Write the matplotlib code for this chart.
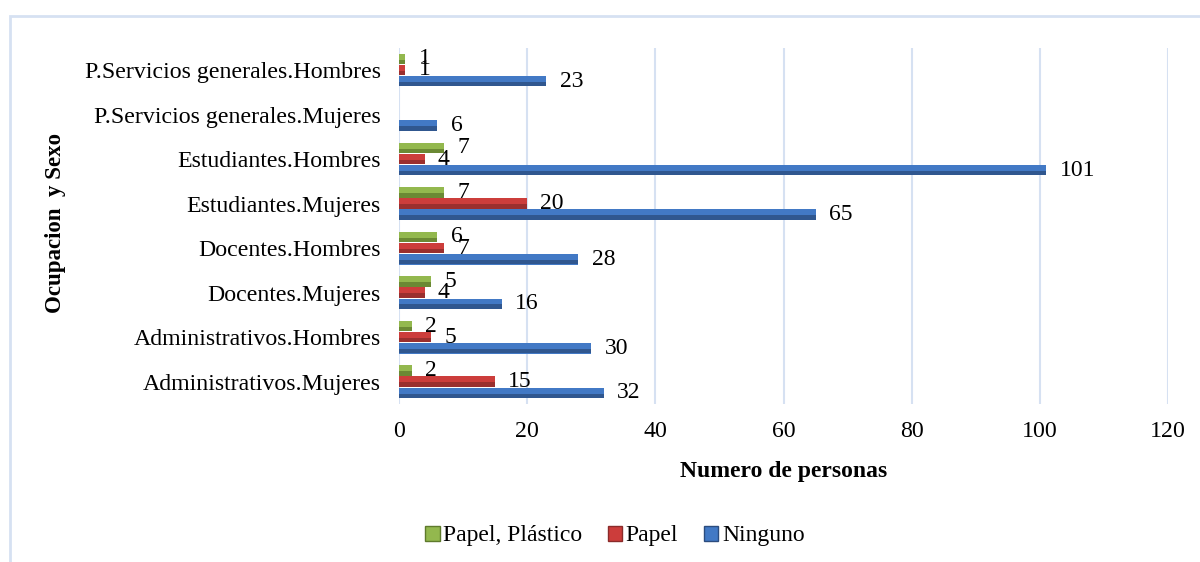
import numpy as np
import matplotlib
matplotlib.use("Agg")
import matplotlib.pyplot as plt
from matplotlib.patches import Patch, Rectangle

categories = [
    "Administrativos.Mujeres",
    "Administrativos.Hombres",
    "Docentes.Mujeres",
    "Docentes.Hombres",
    "Estudiantes.Mujeres",
    "Estudiantes.Hombres",
    "P.Servicios generales.Mujeres",
    "P.Servicios generales.Hombres",
]
ninguno = [32, 30, 16, 28, 65, 101, 6, 23]
papel = [15, 5, 4, 7, 20, 4, np.nan, 1]
papel_plastico = [2, 2, 5, 6, 7, 7, np.nan, 1]
series_names = ["Ninguno", "Papel", "Papel, Plástico"]
xticks = [0, 20, 40, 60, 80, 100, 120]

plt.rcParams['font.family'] = ['Liberation Serif', 'DejaVu Serif']

fig = plt.figure(figsize=(12, 5.62), dpi=100)
fig.patch.set_facecolor('white')
ax = fig.add_axes([399/1200, 1-404/562, (1168-399)/1200, (404-47.7)/562])

y = np.arange(len(categories))
h = 0.25
series = [ninguno, papel, papel_plastico]
offsets = [-h, 0, h]
light = ['#4279C5', '#CC3D3B', '#93B84E']
dark = ['#2B4C7E', '#8A2B2A', '#5E7A2C']
for vals, off, lc, dc in zip(series, offsets, light, dark):
    vals = np.array(vals, dtype=float)
    ax.barh(y + off, vals, height=h * 0.95, color=lc, zorder=3)
    ax.barh(y + off - h * 0.26, vals, height=h * 0.4, color=dc, alpha=0.75, zorder=4)
    for yy, v in zip(y + off, vals):
        if np.isnan(v):
            continue
        ax.annotate(f"{int(v)}", xy=(v, yy), xytext=(9.5, 0), textcoords='offset points',
                    ha='left', va='center', fontsize=17, zorder=5)

ax.set_xlim(0, 120)
ax.set_ylim(-0.5, 7.5)
ax.set_xticks(xticks)
ax.set_yticks(y)
ax.set_yticklabels(categories)
ax.tick_params(axis='both', length=0, labelsize=17.2)
ax.tick_params(axis='y', pad=13)
ax.tick_params(axis='x', pad=12)
ax.grid(axis='x', color='#D6E1F2', linewidth=1.5, zorder=0)
for s in ax.spines.values():
    s.set_visible(False)
ax.set_xlabel("Numero de personas", fontsize=17, fontweight='bold', labelpad=14)

fig.text(56/1200, 1-223/562, "Ocupacion  y Sexo", rotation=90, ha='center', va='center',
         fontsize=16.5, fontweight='bold')

handles = [Patch(facecolor=light[2], edgecolor=dark[2]),
           Patch(facecolor=light[1], edgecolor=dark[1]),
           Patch(facecolor=light[0], edgecolor=dark[0])]
labels = [series_names[2], series_names[1], series_names[0]]
fig.legend(handles, labels, loc='center', bbox_to_anchor=(615/1200, 1-536/562), ncol=3,
           frameon=False, fontsize=17, handlelength=0.6, handleheight=0.6,
           handletextpad=0.15, columnspacing=1.1)

border = Rectangle((10/1200, -0.1), 1.2, 1-16/562+0.1, transform=fig.transFigure,
                   fill=False, edgecolor='#D6E1F2', linewidth=2)
fig.patches.append(border)

fig.savefig("out.png", dpi=100)
